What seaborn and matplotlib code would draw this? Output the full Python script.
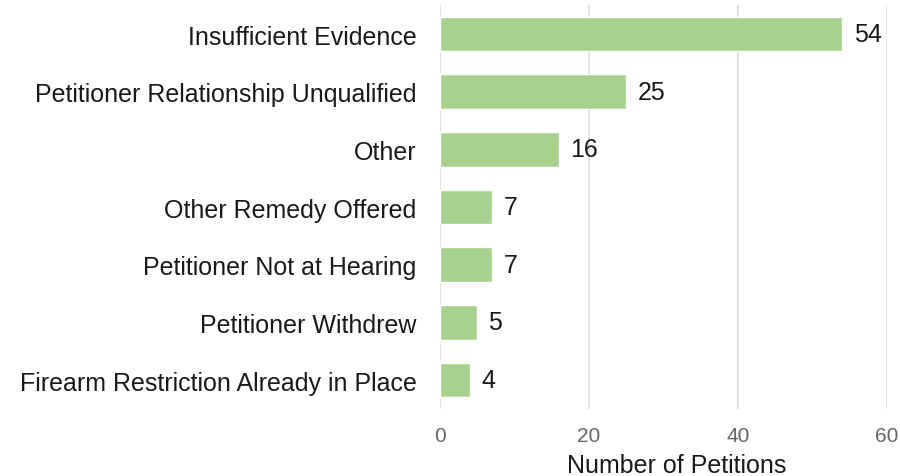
import matplotlib
matplotlib.use("Agg")
import matplotlib.pyplot as plt
import seaborn as sns
import pandas as pd

# Reasons for petitions being denied
reasons = [
    "Insufficient Evidence",
    "Petitioner Relationship Unqualified",
    "Other",
    "Other Remedy Offered",
    "Petitioner Not at Hearing",
    "Petitioner Withdrew",
    "Firearm Restriction Already in Place",
]
counts = [54, 25, 16, 7, 7, 5, 4]
x_ticks = [0, 20, 40, 60]

df = pd.DataFrame({"reason": reasons, "count": counts})

sns.set_style("whitegrid")
plt.rcParams["font.family"] = ["Liberation Sans", "DejaVu Sans"]

fig = plt.figure(figsize=(9, 4.77), dpi=100)
ax = fig.add_axes([0.489, 0.1405, 0.4967, 0.8465])

sns.barplot(data=df, x="count", y="reason", color="#a9d18e", saturation=1,
            width=0.6, orient="h", ax=ax)
ax.bar_label(ax.containers[0], padding=8, fontsize=18, color="#1a1a1a")

ax.set_xlim(0, 60)
ax.set_ylim(6.5, -0.5)
ax.set_xticks(x_ticks)
ax.xaxis.grid(True, color="#dddddd", linewidth=1.2)
ax.yaxis.grid(False)
for s in ax.spines.values():
    s.set_visible(False)

ax.tick_params(axis="x", labelsize=15, colors="#666666", length=0, pad=12)
ax.tick_params(axis="y", labelsize=18, labelcolor="#1a1a1a", length=0, pad=17)
ax.set_ylabel("")
ax.set_xlabel("Number of Petitions", fontsize=18, color="#1a1a1a", labelpad=4)
ax.xaxis.set_label_coords(0.53, -0.11)

fig.savefig("out.png", dpi=100)
